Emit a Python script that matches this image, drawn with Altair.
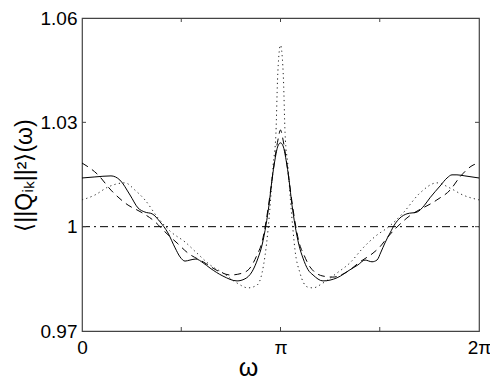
import altair as alt
import pandas as pd

# omega expressed in units of pi (0 .. 2)
solid_w = [0, 0.065, 0.146, 0.191, 0.242, 0.282, 0.317, 0.353, 0.393, 0.433, 0.469, 0.494,
           0.519, 0.544, 0.574, 0.610, 0.645, 0.710, 0.781, 0.821, 0.856, 0.887, 0.907,
           0.927, 0.942, 0.957, 0.972, 0.987, 1.0, 1.013, 1.028, 1.043, 1.058, 1.073,
           1.093, 1.113, 1.139, 1.164, 1.214, 1.285, 1.350, 1.390, 1.426, 1.461, 1.486,
           1.506, 1.526, 1.552, 1.577, 1.602, 1.637, 1.688, 1.723, 1.753, 1.804, 1.839,
           1.864, 1.889, 1.929, 2.0]
solid_v = [1.0140, 1.0143, 1.0146, 1.0134, 1.0091, 1.0054, 1.0042, 1.0037, 1.0014, 0.9982,
           0.9939, 0.9913, 0.9901, 0.9904, 0.9907, 0.9896, 0.9881, 0.9858, 0.9844, 0.9850,
           0.9870, 0.9910, 0.9947, 1.0005, 1.0062, 1.0134, 1.0192, 1.0232, 1.0241, 1.0232,
           1.0192, 1.0134, 1.0062, 1.0005, 0.9947, 0.9910, 0.9876, 0.9861, 0.9844, 0.9853,
           0.9876, 0.9890, 0.9904, 0.9899, 0.9904, 0.9927, 0.9953, 0.9982, 1.0008, 1.0025,
           1.0037, 1.0042, 1.0060, 1.0083, 1.0117, 1.0140, 1.0149, 1.0149, 1.0146, 1.0140]

dashed_w = [0, 0.081, 0.146, 0.232, 0.297, 0.368, 0.418, 0.479, 0.534, 0.610, 0.695, 0.746,
            0.811, 0.846, 0.882, 0.907, 0.927, 0.947, 0.967, 0.987, 1.0, 1.013, 1.033,
            1.053, 1.073, 1.093, 1.118, 1.149, 1.214, 1.264, 1.335, 1.401, 1.466, 1.501,
            1.537, 1.637, 1.788, 1.854, 1.904, 1.970, 2.0]
dashed_v = [1.0183, 1.0149, 1.0105, 1.0062, 1.0042, 1.0014, 0.9985, 0.9953, 0.9924, 0.9899,
            0.9870, 0.9861, 0.9867, 0.9881, 0.9919, 0.9956, 1.0014, 1.0091, 1.0177, 1.0249,
            1.0278, 1.0249, 1.0177, 1.0091, 1.0014, 0.9956, 0.9919, 0.9884, 0.9858, 0.9855,
            0.9870, 0.9899, 0.9924, 0.9942, 0.9968, 1.0025, 1.0077, 1.0105, 1.0143, 1.0177,
            1.0183]

dotted_w = [0, 0.065, 0.131, 0.217, 0.267, 0.317, 0.383, 0.448, 0.519, 0.579, 0.645, 0.710,
            0.781, 0.836, 0.882, 0.907, 0.937, 0.950, 0.962, 0.977, 0.985, 0.992, 1.0,
            1.008, 1.015, 1.023, 1.038, 1.050, 1.063, 1.073, 1.098, 1.134, 1.164, 1.214,
            1.285, 1.350, 1.416, 1.486, 1.537, 1.617, 1.703, 1.788, 1.854, 1.919, 2.0]
dotted_v = [1.0077, 1.0091, 1.0114, 1.0126, 1.0105, 1.0077, 1.0025, 0.9985, 0.9956, 0.9924,
            0.9890, 0.9867, 0.9838, 0.9824, 0.9832, 0.9867, 0.9990, 1.0077, 1.0172, 1.0269,
            1.0422, 1.0494, 1.0522, 1.0494, 1.0422, 1.0269, 1.0172, 1.0077, 0.9990, 0.9933,
            0.9867, 0.9827, 0.9824, 0.9838, 0.9867, 0.9896, 0.9939, 0.9976, 0.9996, 1.0039,
            1.0097, 1.0126, 1.0111, 1.0091, 1.0077]

dashdot_w = [0, 2]
dashdot_v = [1.0, 1.0]

x_ticks = [0, 0.5, 1, 1.5, 2]
y_ticks = [0.97, 1.0, 1.03, 1.06]
x_inner_ticks = [0.5, 1, 1.5]
y_inner_ticks = [1.0, 1.03]

W, H = 397, 313
FONT = "Liberation Sans"
FRAME = "#444444"

xscale = alt.Scale(domain=[0, 2], nice=False, zero=False)
yscale = alt.Scale(domain=[0.97, 1.06], nice=False, zero=False)

xaxis = alt.Axis(
    values=x_ticks,
    labelExpr="datum.value == 0 ? '0' : datum.value == 1 ? 'π' : datum.value == 2 ? '2π' : ''",
    title="ω", ticks=False, domain=False, grid=False,
    labelPadding=7, labelFontSize=19, labelFont=FONT, labelColor="black",
    labelFlush=False, labelOverlap=False,
    titleFont=FONT, titleFontSize=25, titleFontWeight="normal", titleColor="black",
    titleX=166, titleY=44, titleAlign="center", titleBaseline="alphabetic",
)
yaxis = alt.Axis(
    values=y_ticks, format=".2~f",
    title="⟨||Qᵢₖ||²⟩(ω)", ticks=False, domain=False, grid=False,
    labelPadding=5, labelFontSize=19, labelFont=FONT, labelColor="black",
    labelFlush=False, labelOverlap=False,
    titleFont=FONT, titleFontSize=23, titleFontWeight="normal", titleColor="black",
    titleAngle=270, titleX=-51, titleY=157, titleAlign="center", titleBaseline="alphabetic",
)

X = alt.X("w:Q", scale=xscale, axis=xaxis)
Y = alt.Y("v:Q", scale=yscale, axis=yaxis)


def line(w, v, dash, color="black"):
    df = pd.DataFrame({"w": w, "v": v})
    kw = {"strokeDash": dash} if dash else {}
    return alt.Chart(df).mark_line(color=color, strokeWidth=1, interpolate="monotone", **kw).encode(
        x=X, y=Y)


solid = line(solid_w, solid_v, None)
dashed = line(dashed_w, dashed_v, [7, 5])
dotted = line(dotted_w, dotted_v, [1.2, 3.3], color="#222222")
dashdot = line(dashdot_w, dashdot_v, [8, 4, 2, 4])

xt = pd.DataFrame({"w": x_inner_ticks})
yt = pd.DataFrame({"v": y_inner_ticks})
tick_bottom = alt.Chart(xt).mark_rule(color=FRAME).encode(x=X, y=alt.value(H), y2=alt.value(H - 4))
tick_top = alt.Chart(xt).mark_rule(color=FRAME).encode(x=X, y=alt.value(0), y2=alt.value(4))
tick_left = alt.Chart(yt).mark_rule(color=FRAME).encode(y=Y, x=alt.value(0), x2=alt.value(4))
tick_right = alt.Chart(yt).mark_rule(color=FRAME).encode(y=Y, x=alt.value(W), x2=alt.value(W - 4))

chart = alt.layer(dashdot, dotted, dashed, solid, tick_bottom, tick_top, tick_left, tick_right).properties(
    width=W, height=H,
    autosize=alt.AutoSizeParams(type="none"),
    padding={"left": 74, "top": 10, "right": 11, "bottom": 48},
).configure_view(stroke=FRAME, strokeWidth=1.2)

chart.save("out.html", embed_options={"renderer": "svg", "actions": False})
